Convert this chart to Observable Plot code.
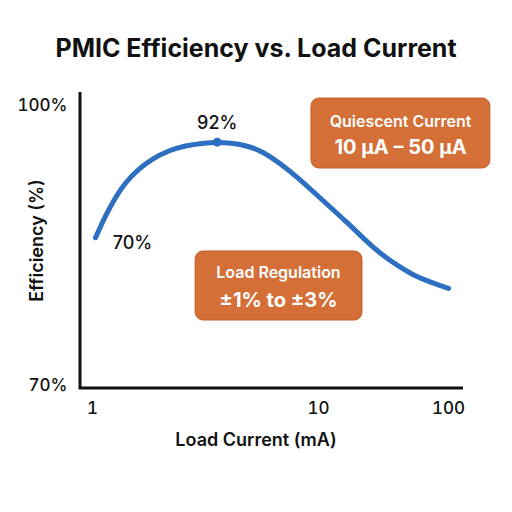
<!DOCTYPE html>
<html><head><meta charset="utf-8">
<script src="https://cdn.jsdelivr.net/npm/d3@7"></script>
<script src="https://cdn.jsdelivr.net/npm/@observablehq/plot@0.6"></script>
<style>
body{margin:0;background:#fff;font-family:Inter,"Noto Sans",sans-serif}
#title{height:70px;box-sizing:border-box;padding-top:33px;line-height:30px;text-align:center;font-size:25px;font-weight:700;color:#111}
</style></head><body>
<div id="title">PMIC Efficiency vs. Load Current</div>
<div id="chart"></div>
<script>
// Data
const loadCurrent = [1.031,1.142,1.264,1.40,1.603,1.837,2.176,2.579,3.058,3.563,4.08,4.84,5.73,6.79,8.05,9.53,17.62,22.31,30.0,40.31,54.09,72.7,100];
const efficiency = [85.83,88.21,90.18,91.78,93.22,94.29,95.18,95.71,95.96,96.07,95.98,95.71,95.0,93.75,92.32,90.71,87.14,85.72,84.11,82.86,81.79,81.07,80.4];
const xTicks = [1, 10, 100];
const yTicks = [70, 100];
const peakLabel = "92%";
const startLabel = "70%";
const boxTitles = ["Quiescent Current", "Load Regulation"];
const boxValues = ["10 µA – 50 µA", "±1% to ±3%"];

const data = loadCurrent.map((x, i) => ({x, y: efficiency[i]}));
const peak = data[9];
const start = data[0];

// annotation layout (data space)
const boxes = [
  {x1: 9.31, x2: 210, y1: 93.25, y2: 100.75, cx: 42.8, ty1: 98.29, ty2: 95.5, t: boxTitles[0], v: boxValues[0]},
  {x1: 2.86, x2: 21.8, y1: 76.96, y2: 84.36, cx: 6.65, ty1: 82.1, ty2: 79.1, t: boxTitles[1], v: boxValues[1]}
];

const axisLines = (index, scales, values, dims) => {
  const ns = "http://www.w3.org/2000/svg";
  const g = document.createElementNS(ns, "g");
  const l = dims.marginLeft, b = dims.height - dims.marginBottom, t = dims.marginTop, r = dims.width - dims.marginRight;
  const p = document.createElementNS(ns, "path");
  p.setAttribute("d", `M${l},${t}V${b}H${r}`);
  p.setAttribute("fill", "none");
  p.setAttribute("stroke", "#111");
  p.setAttribute("stroke-width", 3);
  g.appendChild(p);
  return g;
};

const chart = Plot.plot({
  width: 512,
  height: 442,
  marginLeft: 80,
  marginRight: 49,
  marginTop: 22,
  marginBottom: 124,
  style: {fontFamily: "Inter, 'Noto Sans', sans-serif", fontSize: "17px", color: "#111", background: "#fff"},
  x: {type: "log", domain: [1, 10, 100], range: [92, 318, 448]},
  y: {type: "linear", domain: [70, 100], range: [315, 35]},
  marks: [
    Plot.axisX({ticks: xTicks, tickSize: 0, tickPadding: 13, fontSize: 17, fontWeight: 500, tickFormat: d => String(d), label: null}),
    Plot.axisY({ticks: yTicks, tickSize: 0, tickPadding: 13, fontSize: 17, fontWeight: 500, tickFormat: d => d + "%", label: null}),
    axisLines,
    Plot.text(["Load Current (mA)"], {frameAnchor: "bottom", textAnchor: "middle", dx: -16, dy: 57, fontSize: 18, fontWeight: 600, fill: "#111"}),
    Plot.text(["Efficiency (%)"], {frameAnchor: "left", textAnchor: "middle", dx: -43, rotate: -90, fontSize: 18, fontWeight: 600, fill: "#111"}),
    Plot.line(data, {x: "x", y: "y", curve: "basis", stroke: "#2d6fc0", strokeWidth: 5, strokeLinecap: "round"}),
    Plot.dot([peak], {x: "x", y: "y", r: 4.5, fill: "#2d6fc0"}),
    Plot.text([peak], {x: "x", y: "y", text: () => peakLabel, dy: -19, fontSize: 18, fontWeight: 500, fill: "#111"}),
    Plot.text([start], {x: "x", y: "y", text: () => startLabel, dx: 37, dy: 5, fontSize: 18, fontWeight: 500, fill: "#111"}),
    Plot.rect(boxes, {x1: "x1", x2: "x2", y1: "y1", y2: "y2", rx: 8, fill: "#d36f37", stroke: "#c75e27", strokeWidth: 1}),
    Plot.text(boxes, {x: "cx", y: "ty1", text: "t", fill: "#fff", fontSize: 16, fontWeight: 600}),
    Plot.text(boxes, {x: "cx", y: "ty2", text: "v", fill: "#fff", fontSize: 20, fontWeight: 700})
  ]
});
document.getElementById("chart").appendChild(chart);
</script>
</body></html>
